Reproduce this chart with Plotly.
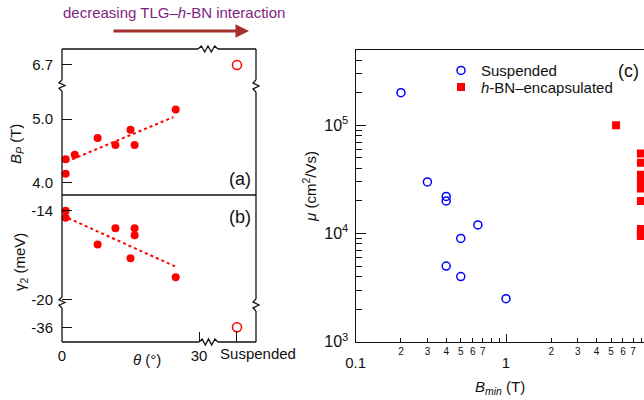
import plotly.graph_objects as go

W, H = 644, 400
FONT = "Liberation Sans, Arial, sans-serif"
LINE = "#111111"
LW = 1.3
RED = "#ff0000"
BLUE = "#0000ff"

# ---------------- data ----------------
# panel (a): B_P vs twist angle
theta_a = [0.8, 0.8, 2.8, 7.8, 11.7, 15.0, 15.9, 24.9]
bp_a = [4.37, 4.14, 4.44, 4.70, 4.59, 4.83, 4.59, 5.15]
fit_a_theta = [1.0, 24.4]
fit_a_bp = [4.33, 5.03]
susp_bp = [6.7]

# panel (b): gamma2 vs twist angle
theta_b = [0.8, 0.8, 7.8, 11.7, 15.9, 15.9, 15.0, 24.9]
g2_b = [-14.0, -14.47, -16.28, -15.19, -15.19, -15.67, -17.22, -18.51]
fit_b_theta = [1.4, 24.9]
fit_b_g2 = [-14.51, -17.79]
susp_g2 = [-36]
susp_cat = ["Suspended"]

# panel (c): mobility vs B_min
bmin_susp = [0.2, 0.3, 0.4, 0.4, 0.5, 0.65, 0.4, 0.5, 1.0]
mu_susp = [2.0e5, 3.0e4, 2.2e4, 2.0e4, 9.0e3, 1.2e4, 5.0e3, 4.0e3, 2.5e3]
bmin_hbn = [5.4, 7.9, 7.9, 7.9, 7.9, 7.9, 7.9, 7.9, 7.9, 7.9]
mu_hbn = [1.0e5, 5.5e4, 4.5e4, 3.5e4, 3.0e4, 2.6e4, 2.0e4, 1.1e4, 1.0e4, 9.5e3]

# tick labels
a_ticks = [4.0, 5.0]
a_ticktext = ["4.0", "5.0"]
a_up_ticks = [6.7]
a_up_ticktext = ["6.7"]
b_ticks = [-14, -20]
b_ticktext = ["-14", "-20"]
b_low_ticks = [-36]
b_low_ticktext = ["-36"]
theta_ticks = [0, 30]
theta_ticktext = ["0", "30"]
c_minor_x = [0.2, 0.3, 0.4, 0.5, 0.6, 0.7, 0.8, 0.9, 2, 3, 4, 5, 6, 7, 8]
c_minor_xtext = ["2", "3", "4", "5", "6", "7", "", "", "2", "3", "4", "5", "6", "7", ""]
c_major_x = [0.1, 1]
c_major_xtext = ["0.1", "1"]
c_major_y = [1e3, 1e4, 1e5]
c_major_ytext = ["10<sup>3</sup>", "10<sup>4</sup>", "10<sup>5</sup>"]
c_minor_y = [m * 10 ** e for e in (3, 4, 5) for m in range(2, 10) if m * 10 ** e < 5e5]


def fx(p):
    return p / W


def fy(p):
    return 1 - p / H


fig = go.Figure()

# (a)
fig.add_trace(go.Scatter(x=fit_a_theta, y=fit_a_bp, mode="lines", xaxis="x", yaxis="y",
                         line=dict(color=RED, width=2, dash="dot"), showlegend=False, hoverinfo="skip"))
fig.add_trace(go.Scatter(x=theta_a, y=bp_a, mode="markers", xaxis="x", yaxis="y", cliponaxis=False,
                         marker=dict(color=RED, size=8), showlegend=False))
fig.add_trace(go.Scatter(x=susp_cat, y=susp_bp, mode="markers", xaxis="x2", yaxis="y2", cliponaxis=False,
                         marker=dict(color="white", size=9, symbol="circle",
                                     line=dict(color=RED, width=1.5)), showlegend=False))
# (b)
fig.add_trace(go.Scatter(x=fit_b_theta, y=fit_b_g2, mode="lines", xaxis="x", yaxis="y3",
                         line=dict(color=RED, width=2, dash="dot"), showlegend=False, hoverinfo="skip"))
fig.add_trace(go.Scatter(x=theta_b, y=g2_b, mode="markers", xaxis="x", yaxis="y3", cliponaxis=False,
                         marker=dict(color=RED, size=8), showlegend=False))
fig.add_trace(go.Scatter(x=susp_cat, y=susp_g2, mode="markers", xaxis="x2", yaxis="y4", cliponaxis=False,
                         marker=dict(color="white", size=9, symbol="circle",
                                     line=dict(color=RED, width=1.5)), showlegend=False))
# (c)
fig.add_trace(go.Scatter(x=bmin_susp, y=mu_susp, mode="markers", xaxis="x3", yaxis="y5",
                         name="Suspended", legend="legend",
                         marker=dict(symbol="circle-open", size=8, color=BLUE, line=dict(width=1.5))))
fig.add_trace(go.Scatter(x=bmin_hbn, y=mu_hbn, mode="markers", xaxis="x4", yaxis="y5",
                         name="<i>h</i>-BN\u2013encapsulated", legend="legend2",
                         marker=dict(symbol="square", size=8, color=RED)))

common = dict(showgrid=False, zeroline=False, showline=False, ticks="inside", automargin=False,
              tickcolor=LINE, tickwidth=LW, tickfont=dict(size=15, color="#111"))

lay = dict(
    width=W, height=H, margin=dict(l=0, r=0, t=0, b=0, pad=0, autoexpand=False),
    paper_bgcolor="white", plot_bgcolor="rgba(0,0,0,0)",
    font=dict(family=FONT, size=15, color="#111"),
    xaxis=dict(common, domain=[fx(62), fx(207.5)], range=[0, 31.86], anchor="y4",
               ticklen=10, tickvals=theta_ticks, ticktext=theta_ticktext, ticklabelstandoff=3),
    xaxis2=dict(common, domain=[fx(207.5), fx(256)], type="category", range=[-0.608, 0.392],
                anchor="y4", ticklen=11, tickvals=susp_cat, ticktext=susp_cat,
                ticklabelshift=21, ticklabelstandoff=1),
    yaxis=dict(common, domain=[fy(195), fy(86)], range=[3.807, 5.518], anchor="x",
               ticklen=10, tickvals=a_ticks, ticktext=a_ticktext, ticklabelstandoff=8),
    yaxis2=dict(common, domain=[fy(86), fy(49)], range=[6.370, 6.951], anchor="x",
                ticklen=10, tickvals=a_up_ticks, ticktext=a_up_ticktext, ticklabelstandoff=8),
    yaxis3=dict(common, domain=[fy(303), fy(195)], range=[-20.249, -12.937], anchor="x",
                ticklen=10, tickvals=b_ticks, ticktext=b_ticktext, ticklabelstandoff=8),
    yaxis4=dict(common, domain=[fy(342), fy(303)], range=[-36.995, -34.355], anchor="x",
                ticklen=10, tickvals=b_low_ticks, ticktext=b_low_ticktext, ticklabelstandoff=8),
    xaxis3=dict(common, type="log", domain=[fx(355.7), 1], range=[-1, -1 + (644 - 355.7) / 150.3],
                anchor="y5", showline=True, mirror=True, linecolor=LINE, linewidth=LW,
                ticklen=4, tickvals=c_minor_x, ticktext=c_minor_xtext,
                tickfont=dict(size=10, color="#111")),
    xaxis4=dict(common, type="log", overlaying="x3", range=[-1, -1 + (644 - 355.7) / 150.3],
                anchor="y5", ticklen=8, tickvals=c_major_x, ticktext=c_major_xtext,
                ticklabelstandoff=10, tickfont=dict(size=15, color="#111")),
    yaxis5=dict(common, type="log", domain=[fy(341.7), fy(50)], range=[3, 5.696], anchor="x3",
                showline=True, linecolor=LINE, linewidth=LW, ticklen=10,
                tickvals=c_major_y, ticktext=c_major_ytext, ticklabelstandoff=3,
                tickfont=dict(size=16, color="#111"),
                minor=dict(tickvals=c_minor_y, ticklen=6, ticks="inside",
                           tickcolor=LINE, tickwidth=LW, showgrid=False)),
    legend=dict(x=fx(441), y=fy(70.7), xanchor="left", yanchor="middle",
                bgcolor="rgba(0,0,0,0)", font=dict(size=15), itemwidth=30),
    legend2=dict(x=fx(441), y=fy(87.3), xanchor="left", yanchor="middle",
                 bgcolor="rgba(0,0,0,0)", font=dict(size=15), itemwidth=30),
)
fig.update_layout(**lay)

# ---------- frame of panels (a)/(b) with axis breaks ----------
shapes = []


def seg(x0, y0, x1, y1):
    shapes.append(dict(type="line", xref="paper", yref="paper", x0=fx(x0), y0=fy(y0),
                       x1=fx(x1), y1=fy(y1), line=dict(color=LINE, width=LW)))


def path(pts):
    d = "M " + " L ".join(f"{fx(x):.5f},{fy(y):.5f}" for x, y in pts)
    shapes.append(dict(type="path", xref="paper", yref="paper", path=d,
                       line=dict(color=LINE, width=LW)))


def vzig(x, ya, yb):
    s = yb - ya
    path([(x, ya), (x - 3, ya + s * 0.25), (x + 3, ya + s * 0.5), (x - 3, ya + s * 0.75), (x, yb)])


def hzig(y, xa, xb):
    s = (xb - xa) / 6
    path([(xa, y), (xa + s, y - 3), (xa + 2 * s, y + 3), (xa + 3 * s, y - 3),
          (xa + 4 * s, y + 3), (xa + 5 * s, y - 3), (xb, y)])


for a in [(62, 49, 62, 80), (62, 91, 62, 297), (62, 308, 62, 342),
          (256, 49, 256, 80), (256, 92, 256, 299), (256, 311, 256, 342),
          (62, 49, 198, 49), (218, 49, 256, 49),
          (62, 342, 199, 342), (218, 342, 256, 342),
          (62, 195, 256, 195)]:
    seg(*a)
vzig(62, 80, 91)
vzig(62, 297, 308)
vzig(256, 80, 92)
vzig(256, 299, 311)
hzig(49, 198, 218)
hzig(342, 199, 218)
fig.update_layout(shapes=shapes)

# ---------- annotations ----------
ann = []


def txt(x, y, t, size=15, color="#111", angle=0, xanchor="center"):
    ann.append(dict(x=fx(x), y=fy(y), xref="paper", yref="paper", text=t, showarrow=False,
                    textangle=angle, xanchor=xanchor, yanchor="middle",
                    font=dict(size=size, color=color, family=FONT)))


txt(174, 13, "decreasing TLG\u2013<i>h</i>-BN interaction", color="#7f1f7f")
ann.append(dict(x=fx(249), y=fy(31), xref="paper", yref="paper", text="", showarrow=True,
                ax=-137, ay=0, arrowhead=2, arrowsize=0.9, arrowwidth=3, arrowcolor="#a3302c"))
txt(253, 178.5, "(a)", size=18, xanchor="right")
txt(253, 216.5, "(b)", size=18, xanchor="right")
txt(641, 70.7, "(c)", size=18, xanchor="right")
txt(16, 144, "<i>B<sub>P</sub></i> (T)", angle=-90)
txt(20, 262, "\u03b3<sub>2</sub> (meV)", angle=-90)
txt(147, 359, "<i>\u03b8</i> (\u00b0)")
txt(500, 387, "<i>B<sub>min</sub></i> (T)")
txt(309, 187, "<i>\u03bc</i> (cm<sup>2</sup>/Vs)", angle=-90)
fig.update_layout(annotations=ann)

fig.write_html("out.html")
